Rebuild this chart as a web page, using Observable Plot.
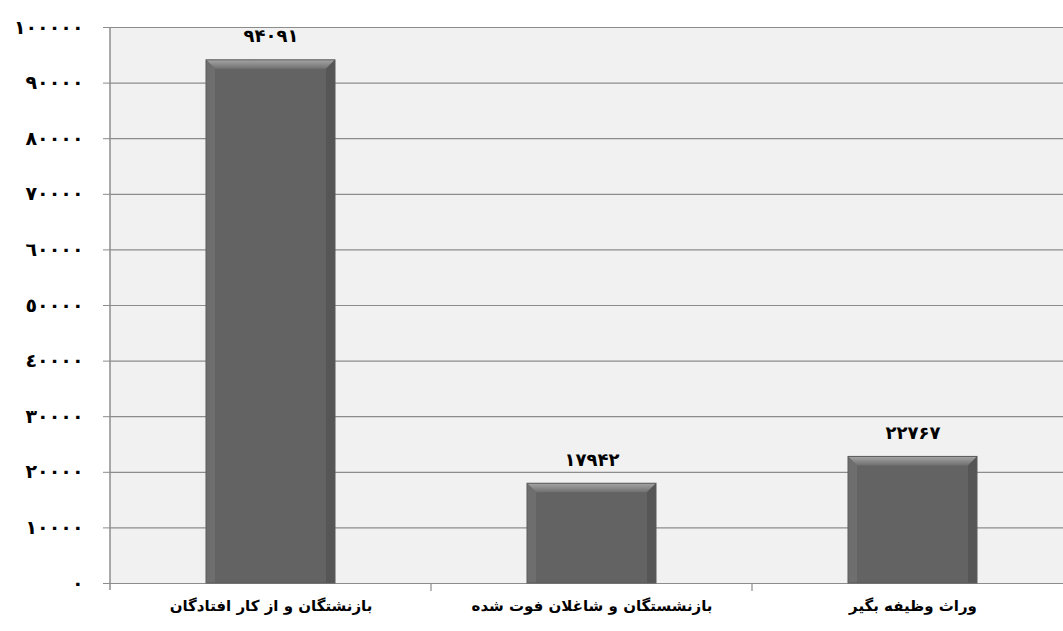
<!DOCTYPE html>
<html>
<head>
<meta charset="utf-8">
<script src="https://cdn.jsdelivr.net/npm/d3@7"></script>
<script src="https://cdn.jsdelivr.net/npm/@observablehq/plot@0.6"></script>
<style>
  html, body { margin: 0; padding: 0; background: #ffffff; }
  #chart svg { display: block; }
</style>
</head>
<body>
<div id="chart"></div>
<script>
// ---- data ----
const categories = [
  "بازنشتگان و از کار افتادگان",
  "بازنشستگان و شاغلان فوت شده",
  "وراث وظیفه بگیر"
];
const values = [94091, 17942, 22767];
const valueLabels = ["۹۴۰۹۱", "۱۷۹۴۲", "۲۲۷۶۷"];
const yTicks = [0, 10000, 20000, 30000, 40000, 50000, 60000, 70000, 80000, 90000, 100000];
const yTickLabels = ["٠", "١٠٠٠٠", "٢٠٠٠٠", "٣٠٠٠٠", "٤٠٠٠٠", "٥٠٠٠٠", "٦٠٠٠٠", "٧٠٠٠٠", "٨٠٠٠٠", "٩٠٠٠٠", "١٠٠٠٠٠"];

const data = categories.map((c, i) => ({ category: c, value: values[i], label: valueLabels[i] }));

// ---- layout ----
const W = 1063, H = 631;
const mL = 110, mT = 27, mB = 48;
const bandStep = 321;
const barInset = 96;
const bevel = 9;
const gridColor = "#8c8c8c";
const font = "'DejaVu Sans', sans-serif";

// extras: axis line, category separators, bar bevels (all through scales)
function decorations(index, scales) {
  const x = scales.x, y = scales.y;
  const g = d3.create("svg:g");
  const y0 = y(0);
  data.forEach(d => {
    const x0 = x(d.category) + barInset;
    const x1 = x(d.category) + bandStep - barInset;
    const yt = y(d.value);
    const b = bevel;
    g.append("polygon").attr("points", `${x0},${yt} ${x1},${yt} ${x1-b},${yt+b} ${x0+b},${yt+b}`).attr("fill", "url(#bevTop)");
    g.append("polygon").attr("points", `${x0},${yt} ${x0+b},${yt+b} ${x0+b},${y0} ${x0},${y0}`).attr("fill", "#6e6e6e");
    g.append("polygon").attr("points", `${x1},${yt} ${x1-b},${yt+b} ${x1-b},${y0} ${x1},${y0}`).attr("fill", "#565656");
    g.append("rect").attr("x", x0).attr("y", yt).attr("width", x1 - x0).attr("height", y0 - yt)
      .attr("fill", "none").attr("stroke", "#5a5a5a").attr("stroke-width", 1);
  });
  g.append("line").attr("x1", mL).attr("x2", mL).attr("y1", y(100000)).attr("y2", y0 + 7)
    .attr("stroke", gridColor).attr("stroke-width", 1.5);
  categories.slice(1).forEach(c => {
    g.append("line").attr("x1", x(c)).attr("x2", x(c)).attr("y1", y0).attr("y2", y0 + 8)
      .attr("stroke", gridColor).attr("stroke-width", 1.2);
  });
  return g.node();
}

const chart = Plot.plot({
  width: W,
  height: H,
  marginLeft: mL,
  marginRight: 0,
  marginTop: mT,
  marginBottom: mB,
  style: { fontFamily: font, background: "#ffffff", color: "#000" },
  x: { type: "band", domain: categories, range: [mL, mL + 3 * bandStep], padding: 0, label: null },
  y: { domain: [0, 100000], label: null },
  marks: [
    Plot.frame({ fill: "#f1f1f1", stroke: null }),
    Plot.ruleY(yTicks, { stroke: gridColor, strokeWidth: 1.2 }),
    Plot.barY(data, { x: "category", y: "value", fill: "#636363", insetLeft: barInset, insetRight: barInset }),
    decorations,
    Plot.text(data, {
      x: "category", y: "value", text: "label", dy: -24,
      fontSize: 18, fontWeight: "bold", fill: "#000"
    }),
    Plot.axisY({
      ticks: yTicks,
      tickFormat: d => yTickLabels[yTicks.indexOf(d)],
      tickSize: 7, tickPadding: 20, stroke: gridColor,
      fontSize: 19, fontWeight: "bold", fill: "#000", label: null
    }),
    Plot.axisX({
      tickSize: 0, tickPadding: 17,
      fontSize: 15, fontWeight: "bold", fill: "#000", label: null
    })
  ]
});

const svg = d3.select(chart);
const defs = svg.insert("defs", ":first-child");
const grad = defs.append("linearGradient").attr("id", "bevTop").attr("x1", 0).attr("y1", 0).attr("x2", 0).attr("y2", 1);
grad.append("stop").attr("offset", "0%").attr("stop-color", "#a5a5a5");
grad.append("stop").attr("offset", "100%").attr("stop-color", "#707070");

document.getElementById("chart").appendChild(chart);
</script>
</body>
</html>
